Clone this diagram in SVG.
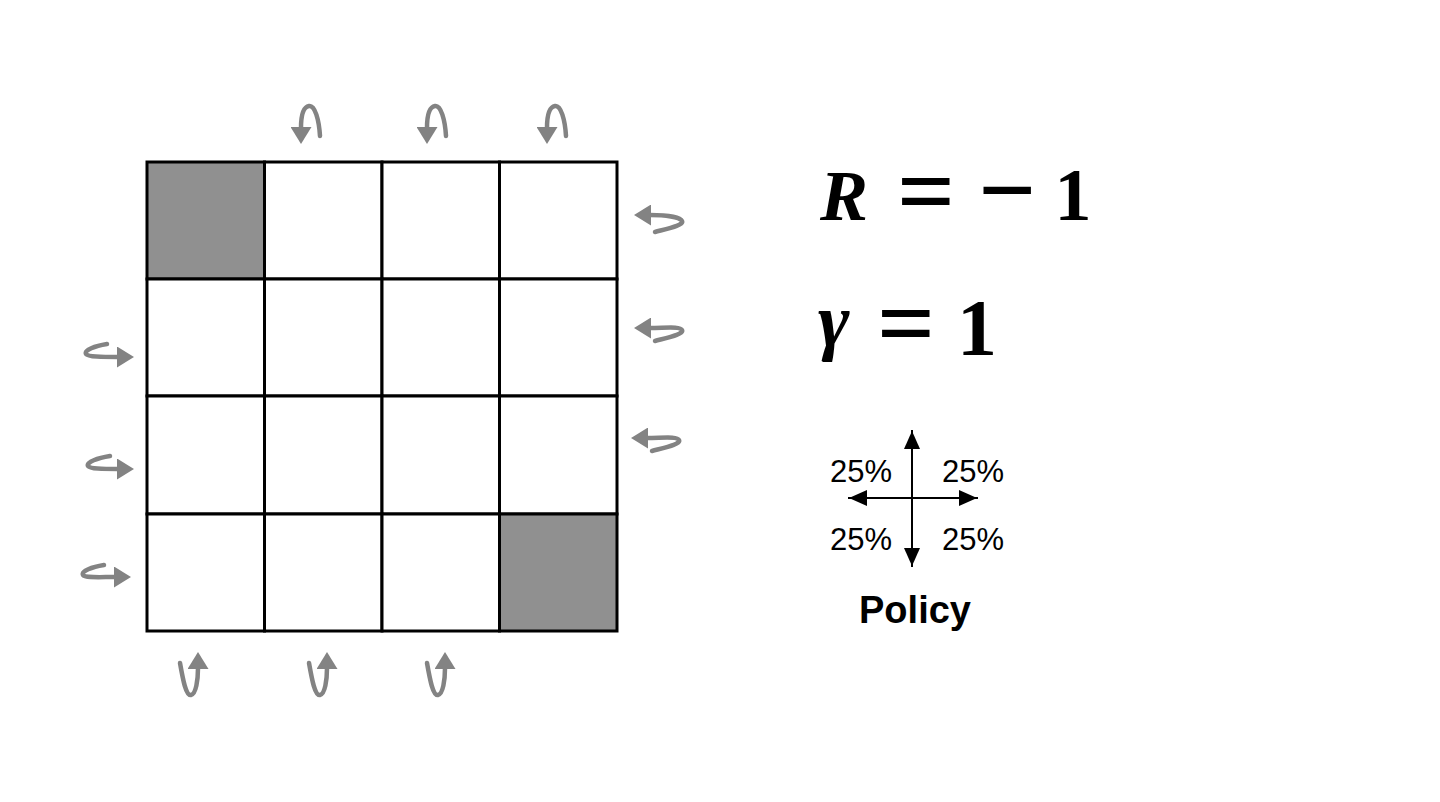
<svg xmlns="http://www.w3.org/2000/svg" width="1440" height="802" viewBox="0 0 1440 802">
<style>
.cell{fill:#ffffff;stroke:#000;stroke-width:3}
.term{fill:#909090;stroke:#000;stroke-width:3}
.loop{fill:none;stroke:#838383;stroke-width:4.5;stroke-linecap:round}
.ax{fill:none;stroke:#000;stroke-width:2}
.math{font-family:"Liberation Serif","Times New Roman",serif;font-weight:bold;fill:#000}
.pct{font-family:"Liberation Sans",Arial,sans-serif;font-size:31px;fill:#000}
.pol{font-family:"Liberation Sans",Arial,sans-serif;font-size:38px;font-weight:bold;fill:#000}
</style>
<defs>
<marker id="gh" markerUnits="userSpaceOnUse" markerWidth="17" markerHeight="21" viewBox="0 0 17 21" refX="1" refY="10.5" orient="auto">
<path d="M0,0 L17,10.5 L0,21 z" fill="#838383"/>
</marker>
<marker id="bh" markerUnits="userSpaceOnUse" markerWidth="18" markerHeight="16" viewBox="0 0 18 16" refX="1" refY="8" orient="auto">
<path d="M0,0 L18,8 L0,16 z" fill="#000"/>
</marker>
</defs>
<rect width="1440" height="802" fill="#fff"/>
<g id="grid">
<g id="c00"><rect class="term" x="147" y="162" width="117.5" height="117"/></g>
<g id="c01"><rect class="cell" x="264.5" y="162" width="117.5" height="117"/></g>
<g id="c02"><rect class="cell" x="382" y="162" width="117.5" height="117"/></g>
<g id="c03"><rect class="cell" x="499.5" y="162" width="117.5" height="117"/></g>
<g id="c10"><rect class="cell" x="147" y="279" width="117.5" height="117"/></g>
<g id="c11"><rect class="cell" x="264.5" y="279" width="117.5" height="117"/></g>
<g id="c12"><rect class="cell" x="382" y="279" width="117.5" height="117"/></g>
<g id="c13"><rect class="cell" x="499.5" y="279" width="117.5" height="117"/></g>
<g id="c20"><rect class="cell" x="147" y="396" width="117.5" height="118"/></g>
<g id="c21"><rect class="cell" x="264.5" y="396" width="117.5" height="118"/></g>
<g id="c22"><rect class="cell" x="382" y="396" width="117.5" height="118"/></g>
<g id="c23"><rect class="cell" x="499.5" y="396" width="117.5" height="118"/></g>
<g id="c30"><rect class="cell" x="147" y="514" width="117.5" height="117"/></g>
<g id="c31"><rect class="cell" x="264.5" y="514" width="117.5" height="117"/></g>
<g id="c32"><rect class="cell" x="382" y="514" width="117.5" height="117"/></g>
<g id="c33"><rect class="term" x="499.5" y="514" width="117.5" height="117"/></g>
</g>
<g id="connectors">
<path class="loop" marker-end="url(#gh)" d="M320,136 C319,120 315,105 309,106 C303,107 301,117 301,128"/>
<path class="loop" marker-end="url(#gh)" d="M446,136 C445,120 441,105 435,106 C429,107 427,117 427,128"/>
<path class="loop" marker-end="url(#gh)" d="M566,136 C565,120 561,105 555,106 C549,107 547,117 547,128"/>
<path class="loop" marker-end="url(#gh)" d="M180,663 C183,680 186,696 191,695 C196,694 198,680 198,668"/>
<path class="loop" marker-end="url(#gh)" d="M309,663 C312,680 315,696 320,695 C325,694 327,680 327,668"/>
<path class="loop" marker-end="url(#gh)" d="M427,663 C430,680 433,696 438,695 C443,694 445,680 445,668"/>
<path class="loop" marker-end="url(#gh)" d="M655,232 C670,228 684,225 682,221 C680,217 665,215 650,215"/>
<path class="loop" marker-end="url(#gh)" d="M655,341 C670,337 684,334 682,330 C680,326 665,328 650,328"/>
<path class="loop" marker-end="url(#gh)" d="M652,451 C667,447 681,444 679,440 C677,436 662,438 647,438"/>
<path class="loop" marker-end="url(#gh)" d="M107,344 C95,346 84,350 86,354 C88,357 103,357 118,357"/>
<path class="loop" marker-end="url(#gh)" d="M110,456 C98,458 86,462 88,466 C90,469 103,469 118,469"/>
<path class="loop" marker-end="url(#gh)" d="M104,565 C92,567 81,571 83,575 C85,578 100,577 115,577"/>
</g>
<g id="reward">
<text class="math" x="820" y="220" font-size="72" font-style="italic">R</text>
<text class="math" x="926" y="225" font-size="102" text-anchor="middle">=</text>
<text class="math" x="1007" y="224" font-size="102" text-anchor="middle">−</text>
<text class="math" x="1073" y="220" font-size="74" text-anchor="middle">1</text>
</g>
<g id="gamma">
<text class="math" x="818" y="346" font-size="76" font-style="italic">γ</text>
<text class="math" x="906" y="357" font-size="102" text-anchor="middle">=</text>
<text class="math" x="977" y="355" font-size="80" text-anchor="middle">1</text>
</g>
<g id="policy">
<line class="ax" x1="912" y1="567" x2="912" y2="448" marker-end="url(#bh)"/>
<line class="ax" x1="912" y1="430" x2="912" y2="549" marker-end="url(#bh)"/>
<line class="ax" x1="848" y1="498" x2="960" y2="498" marker-end="url(#bh)"/>
<line class="ax" x1="978" y1="498" x2="866" y2="498" marker-end="url(#bh)"/>
<text class="pct" x="861" y="482" text-anchor="middle">25%</text>
<text class="pct" x="973" y="482" text-anchor="middle">25%</text>
<text class="pct" x="861" y="550" text-anchor="middle">25%</text>
<text class="pct" x="973" y="550" text-anchor="middle">25%</text>
<text class="pol" x="915" y="623" text-anchor="middle">Policy</text>
</g>
</svg>
